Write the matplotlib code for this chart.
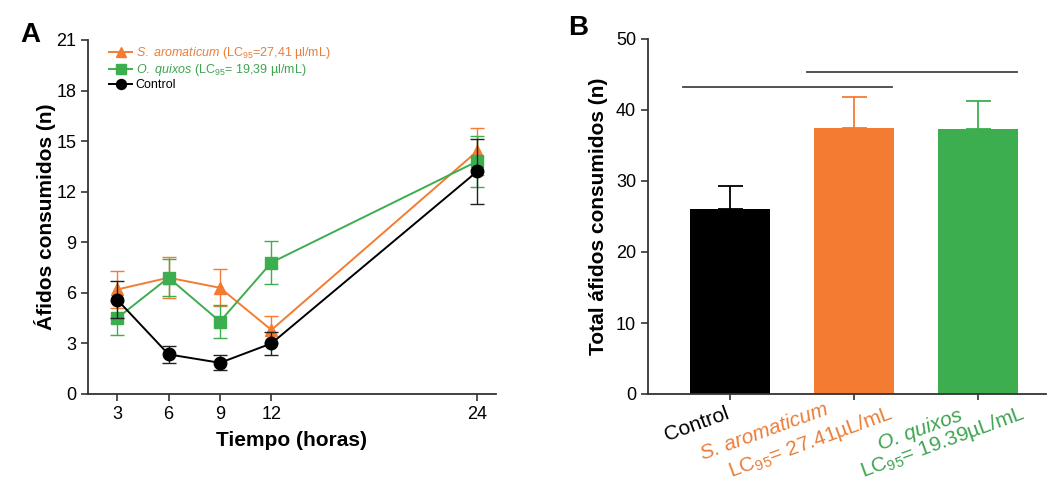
import matplotlib
matplotlib.use("Agg")
import matplotlib.pyplot as plt
import numpy as np

plt.rcParams['font.family'] = ['Liberation Sans', 'DejaVu Sans']
plt.rcParams['mathtext.fontset'] = 'custom'
plt.rcParams['mathtext.rm'] = 'Liberation Sans'
plt.rcParams['mathtext.it'] = 'Liberation Sans:italic'
plt.rcParams['mathtext.bf'] = 'Liberation Sans:bold'

# ---- Data panel A ----
hours = [3, 6, 9, 12, 24]
arom_mean = [6.2, 6.9, 6.3, 3.8, 14.4]
arom_err = [1.1, 1.2, 1.1, 0.8, 1.4]
quix_mean = [4.5, 6.9, 4.3, 7.8, 13.8]
quix_err = [1.0, 1.1, 1.0, 1.3, 1.5]
ctrl_mean = [5.6, 2.35, 1.85, 3.0, 13.2]
ctrl_err = [1.1, 0.5, 0.45, 0.7, 1.9]
a_yticks = [0, 3, 6, 9, 12, 15, 18, 21]

# ---- Data panel B ----
b_categories = ["Control", "S. aromaticum", "O. quixos"]
b_means = [26.0, 37.5, 37.3]
b_errs = [3.3, 4.4, 3.9]
b_yticks = [0, 10, 20, 30, 40, 50]
sig_lines = [(-0.38, 1.31, 43.2), (0.62, 2.32, 45.3)]

ORANGE = '#F47C32'
GREEN = '#3DAE4F'
ORANGE_T = '#EA7F3A'
GREEN_T = '#3FA450'
AXC = '#333333'

fig = plt.figure(figsize=(10.5, 4.82), dpi=100)
axA = fig.add_axes([88/1050, 1-394/482, (496-88)/1050, (394-40)/482])
axB = fig.add_axes([648/1050, 1-394/482, (1046-648)/1050, (394-39)/482])

for ax in (axA, axB):
    for s in ('top', 'right'):
        ax.spines[s].set_visible(False)
    for s in ('left', 'bottom'):
        ax.spines[s].set_color(AXC)
        ax.spines[s].set_linewidth(1.3)
    ax.tick_params(direction='out', length=5, width=1.2, color=AXC, labelsize=13)

# Panel A
ekw = dict(capsize=5, elinewidth=1.0, capthick=1.0, lw=1.4, ms=9)
c1 = axA.errorbar(hours, arom_mean, yerr=arom_err, color=ORANGE, marker='^', ecolor=ORANGE,
                  zorder=3, **ekw)
c2 = axA.errorbar(hours, quix_mean, yerr=quix_err, color=GREEN, marker='s', ecolor=GREEN,
                  zorder=3, **ekw)
c3 = axA.errorbar(hours, ctrl_mean, yerr=ctrl_err, color='black', marker='o', ecolor='#222222',
                  zorder=4, **ekw)
leg_labels = [r"$\mathit{S.}$ $\mathit{aromaticum}$ (LC$_{95}$=27,41 µl/mL)",
              r"$\mathit{O.}$ $\mathit{quixos}$ (LC$_{95}$= 19,39 µl/mL)",
              "Control"]
axA.set_xlim(1.3, 25.1)
axA.set_ylim(0, 21)
axA.set_xticks(hours)
axA.set_yticks(a_yticks)
axA.set_xlabel("Tiempo (horas)", fontsize=15, fontweight='bold', labelpad=6)
axA.set_ylabel("Áfidos consumidos (n)", fontsize=15, fontweight='bold', labelpad=0)
leg = axA.legend([c1[0], c2[0], c3[0]], leg_labels, loc='upper left', bbox_to_anchor=(0.04, 1.0),
                 frameon=False, fontsize=9, handlelength=1.8, handletextpad=0.3,
                 labelspacing=0.1, borderaxespad=0, markerscale=0.8)
for t, c in zip(leg.get_texts(), [ORANGE_T, GREEN_T, 'black']):
    t.set_color(c)

# Panel B
xb = np.arange(len(b_categories))
bcols = ['black', ORANGE, GREEN]
axB.bar(xb, b_means, width=0.65, color=bcols, zorder=2)
for x, m, e, c in zip(xb, b_means, b_errs, bcols):
    axB.errorbar([x], [m], yerr=[[0], [e]], color=c, capsize=9, elinewidth=1.3, capthick=1.3, zorder=1)
for x0, x1, y in sig_lines:
    axB.plot([x0, x1], [y, y], color='#444444', lw=1.3)
axB.set_xlim(-0.66, 2.55)
axB.set_ylim(0, 50)
axB.set_yticks(b_yticks)
axB.set_xticks(xb)
axB.set_xticklabels([])
axB.tick_params(axis='x', length=4)
axB.set_ylabel("Total áfidos consumidos (n)", fontsize=15, fontweight='bold', labelpad=6)

# category labels: each line placed separately (offsets in pixels from tick base)
label_lines = [
    (0, "Control", 'black', (-63, -47), 'normal'),
    (1, "S. aromaticum", ORANGE_T, (-151, -66), 'italic'),
    (1, r"LC$_{95}$= 27.41µL/mL", ORANGE_T, (-123, -83), 'normal'),
    (2, "O. quixos", GREEN_T, (-97, -56), 'italic'),
    (2, r"LC$_{95}$= 19.39µL/mL", GREEN_T, (-115, -83), 'normal'),
]
for i, txt, c, off, st in label_lines:
    axB.annotate(txt, xy=(xb[i], 0), xycoords='data', xytext=off, textcoords='offset pixels',
                 rotation=20, rotation_mode='anchor', ha='left', va='baseline',
                 color=c, fontsize=15, fontstyle=st, annotation_clip=False)

fig.text(30/1050, 1-35/482, "A", fontsize=20, fontweight='bold', va='center', ha='center')
fig.text(578/1050, 1-28/482, "B", fontsize=20, fontweight='bold', va='center', ha='center')

fig.savefig("out.png", dpi=100)
